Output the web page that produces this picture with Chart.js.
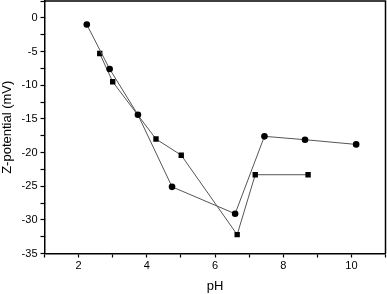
<!DOCTYPE html>
<html>
<head>
<meta charset="utf-8">
<script src="https://cdn.jsdelivr.net/npm/chart.js@4/dist/chart.umd.min.js"></script>
<style>
  html, body { margin: 0; padding: 0; background: #fff; }
  #wrap { width: 387px; height: 294px; }
</style>
</head>
<body>
<div id="wrap"><canvas id="zetaChart" width="387" height="294"></canvas></div>
<script>
'use strict';

// circle series
const phCircle = [2.24, 2.91, 3.74, 4.74, 6.59, 7.45, 8.64, 10.14];
const zetaCircle = [-1.0, -7.6, -14.4, -25.1, -29.1, -17.6, -18.1, -18.8];

// square series
const phSquare = [2.62, 3.0, 4.27, 5.01, 6.65, 7.18, 8.73];
const zetaSquare = [-5.3, -9.5, -18.0, -20.4, -32.2, -23.3, -23.3];

const xTickLabels = [2, 4, 6, 8, 10];
const yTickLabels = [0, -5, -10, -15, -20, -25, -30, -35];

const toPoints = (xs, ys) => xs.map((x, i) => ({ x: x, y: ys[i] }));

// top and right frame lines
const frame = {
    id: 'frame',
    afterDraw(chart) {
        const { ctx, chartArea: a } = chart;
        ctx.save();
        ctx.strokeStyle = '#000';
        ctx.lineWidth = 1.5;
        ctx.beginPath();
        ctx.moveTo(a.left, a.top);
        ctx.lineTo(a.right, a.top);
        ctx.lineTo(a.right, a.bottom);
        ctx.stroke();
        ctx.restore();
    }
};

const CHART = document.getElementById('zetaChart');

new Chart(CHART, {
    type: 'scatter',
    data: {
        datasets: [
            {
                label: 'circle',
                data: toPoints(phCircle, zetaCircle),
                showLine: true,
                borderColor: '#555',
                borderWidth: 1,
                pointStyle: 'circle',
                pointRadius: 3.3,
                pointBackgroundColor: '#000',
                pointBorderColor: '#000',
                pointBorderWidth: 0
            },
            {
                label: 'square',
                data: toPoints(phSquare, zetaSquare),
                showLine: true,
                borderColor: '#555',
                borderWidth: 1,
                pointStyle: 'rect',
                pointRadius: 3.8,
                pointBackgroundColor: '#000',
                pointBorderColor: '#000',
                pointBorderWidth: 0
            }
        ]
    },
    options: {
        responsive: false,
        animation: false,
        layout: { autoPadding: false, padding: { top: 1, right: 1.5, left: 0, bottom: 0 } },
        plugins: {
            legend: { display: false },
            tooltip: { enabled: false }
        },
        scales: {
            x: {
                type: 'linear',
                min: 1,
                max: 11,
                afterFit: (s) => { s.height = 40.5; s.paddingLeft = 0; s.paddingRight = 0; },
                grid: { drawOnChartArea: false, tickLength: 4, tickColor: '#000', tickWidth: 1.2 },
                border: { color: '#000', width: 1.5 },
                ticks: {
                    stepSize: 1,
                    padding: 2,
                    maxRotation: 0,
                    autoSkip: false,
                    color: '#000',
                    font: { family: 'Liberation Sans', size: 11 },
                    callback: (v) => xTickLabels.includes(v) ? String(v) : ''
                },
                title: {
                    display: true,
                    text: 'pH',
                    color: '#000',
                    padding: { top: 0, bottom: 0 },
                    font: { family: 'Liberation Sans', size: 13 }
                }
            },
            y: {
                type: 'linear',
                min: -35,
                max: 2.5,
                afterFit: (s) => { s.width = 44.5; s.paddingTop = 0; s.paddingBottom = 0; },
                grid: { drawOnChartArea: false, tickLength: 4, tickColor: '#000', tickWidth: 1.2 },
                border: { color: '#000', width: 1.5 },
                ticks: {
                    stepSize: 2.5,
                    padding: 3,
                    autoSkip: false,
                    color: '#000',
                    font: { family: 'Liberation Sans', size: 11 },
                    callback: (v) => yTickLabels.includes(v) ? String(v) : ''
                },
                title: {
                    display: true,
                    text: 'Z-potential (mV)',
                    color: '#000',
                    padding: { top: 0, bottom: 0 },
                    font: { family: 'Liberation Sans', size: 13 }
                }
            }
        }
    },
    plugins: [frame]
});
</script>
</body>
</html>
